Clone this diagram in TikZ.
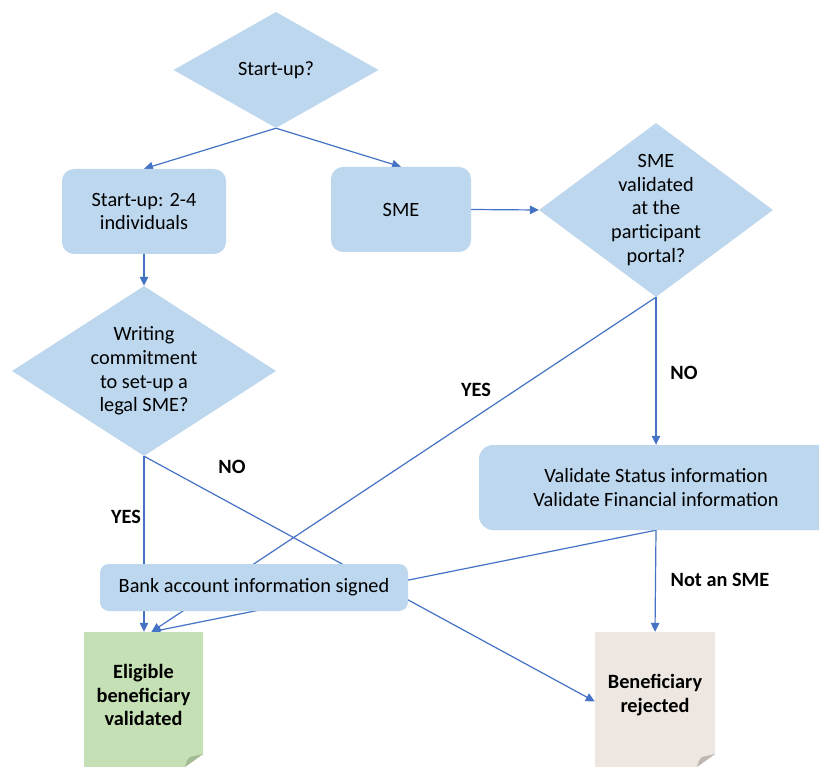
\documentclass[tikz,border=0pt]{standalone}
\usepackage{fontspec}
\setmainfont{Carlito}
\usetikzlibrary{shapes.geometric,arrows.meta}
\definecolor{boxblue}{HTML}{BDD7EE}
\definecolor{lineblue}{HTML}{4472C4}
\definecolor{okgreen}{HTML}{C5E0B4}
\definecolor{okfold}{HTML}{A3BA94}
\definecolor{rejfill}{HTML}{EEE7E1}
\definecolor{rejfold}{HTML}{BEB7B1}
\pgfdeclarelayer{bg}
\pgfsetlayers{bg,main}
\tikzset{
  txt/.style={font=\fontsize{20.3}{23.6}\selectfont, text=black, align=center},
  dia/.style={diamond, fill=boxblue, inner sep=0pt},
  rbox/.style={rectangle, rounded corners=#1, fill=boxblue, inner sep=0pt, txt},
  conn/.style={draw=lineblue, line width=1.2pt, -{Triangle[length=9pt,width=8.5pt]}},
  lbl/.style={font=\fontsize{20.3}{23.6}\selectfont\bfseries, text=black},
  page/.style 2 args={rectangle, inner sep=0pt,
    path picture={
      \fill[#1] (path picture bounding box.north west) -- (path picture bounding box.north east)
        -- ([yshift=13pt]path picture bounding box.south east)
        -- ([xshift=-18pt]path picture bounding box.south east)
        -- (path picture bounding box.south west) -- cycle;
      \fill[#2] ([yshift=13pt]path picture bounding box.south east)
        -- ([xshift=-13pt,yshift=10pt]path picture bounding box.south east)
        .. controls ([xshift=-16pt,yshift=7pt]path picture bounding box.south east)
        .. ([xshift=-18pt]path picture bounding box.south east) -- cycle;
    }}
}
\begin{document}
\begin{tikzpicture}[x=1pt,y=-1pt]
\useasboundingbox (0,0) rectangle (819,767);

\node[dia, minimum width=205pt, minimum height=116pt,
  label={[txt]center:Start-up?}] (q1) at (276,70) {};
\node[rbox=12pt, minimum width=164pt, minimum height=85pt] (sb) at (144,211.5) {Start-up: 2-4\\individuals};
\node[rbox=12pt, minimum width=140pt, minimum height=85pt] (sme) at (401,209.5) {SME};
\node[dia, minimum width=234pt, minimum height=174pt,
  label={[txt]center:SME\\validated\\at the\\participant\\portal?}] (sv) at (656,210) {};
\node[dia, minimum width=264pt, minimum height=170pt,
  label={[txt]center:Writing\\commitment\\to set-up a\\legal SME?}] (wc) at (144,371) {};
\node[rbox=14pt, minimum width=354pt, minimum height=85pt] (val) at (656,487.5)
  {Validate Status information\\Validate Financial information};
\node[rbox=9pt, minimum width=308pt, minimum height=47pt] (bank) at (254,587.5)
  {Bank account information signed};
\node[page={okgreen}{okfold}, minimum width=119pt, minimum height=135pt,
  label={[lbl, align=center, yshift=4.5pt]center:Eligible\\beneficiary\\validated}] (elig) at (143.5,699.5) {};
\node[page={rejfill}{rejfold}, minimum width=120pt, minimum height=135pt,
  label={[lbl, align=center, yshift=4.5pt]center:Beneficiary\\rejected}] (rej) at (655,699.5) {};

\node[lbl] (yes1) at (476,390) {YES};
\node[lbl] (no1) at (684,373) {NO};
\node[lbl] (no2) at (232,467) {NO};
\node[lbl] (yes2) at (126,517) {YES};
\node[lbl] (notsme) at (720,580) {Not an SME};

\begin{pgfonlayer}{bg}
\fill[white] (0,0) rectangle (819,767);
\draw[conn] (q1.south) -- (sb.north);
\draw[conn] (q1.south) -- (sme.north);
\draw[conn] (sb.south) -- (wc.north);
\draw[conn] (sme.east) -- (sv.west);
\draw[conn] (sv.south) -- (val.north);
\draw[conn] (sv.south) -- ([xshift=8pt]elig.north);
\draw[conn] (wc.south) -- (wc.south |- elig.north);
\draw[conn] (wc.south) -- ([yshift=-2pt]rej.west);
\draw[conn] (val.south) -- (rej.north);
\draw[conn] (val.south) -- ([xshift=8pt]elig.north);
\end{pgfonlayer}
\end{tikzpicture}
\end{document}
